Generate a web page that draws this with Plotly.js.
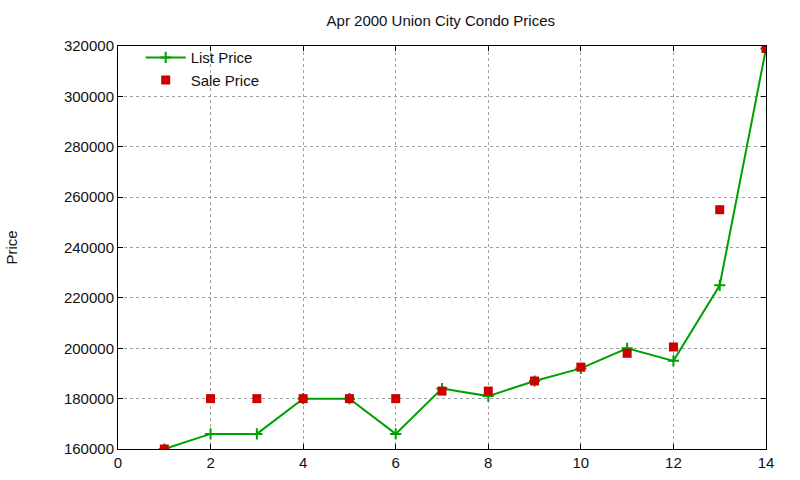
<!DOCTYPE html>
<html>
<head>
<meta charset="utf-8">
<script src="https://cdn.plot.ly/plotly-3.0.1.min.js"></script>
<style>
  html, body { margin: 0; padding: 0; background: #fff; }
  #chart { width: 800px; height: 480px; }
</style>
</head>
<body>
<div id="chart"></div>
<script>
// Union City condo sales, April 2000
const unitIndex = [1, 2, 3, 4, 5, 6, 7, 8, 9, 10, 11, 12, 13, 14];
const listPrice = [160000, 166000, 166000, 180000, 180000, 166000, 184000, 181000, 187000, 192000, 200000, 195000, 225000, 319000];
const salePrice = [160000, 180000, 180000, 180000, 180000, 180000, 183000, 183000, 187000, 192500, 198000, 200500, 255000, 319000];

const FONT = 'Liberation Sans, Arial, sans-serif';
const TEXT = '#111';

const traces = [
    {
        type: 'scatter', mode: 'lines+markers', name: 'List Price',
        x: unitIndex, y: listPrice,
        line: { color: '#00a000', width: 2 },
        marker: { symbol: 'cross-thin', size: 8, color: '#00a000', line: { color: '#00a000', width: 2 } }
    },
    {
        type: 'scatter', mode: 'markers', name: 'Sale Price',
        x: unitIndex, y: salePrice,
        marker: { symbol: 'square', size: 9, color: '#cc0000' }
    }
];

const axisCommon = {
    showline: true, linecolor: '#000', linewidth: 1, mirror: 'ticks',
    ticks: 'inside', ticklen: 5, tickcolor: '#000', tickwidth: 1,
    showgrid: true, gridcolor: '#a0a0a0', gridwidth: 1, griddash: 'dot',
    zeroline: false,
    tickfont: { family: FONT, size: 15, color: TEXT }
};

const layout = {
    width: 800, height: 480,
    margin: { t: 46, b: 31, l: 118, r: 34 },
    paper_bgcolor: '#fff', plot_bgcolor: '#fff',
    font: { family: FONT, color: TEXT },
    title: {
        text: 'Apr 2000 Union City Condo Prices',
        font: { family: FONT, size: 15, color: TEXT },
        x: 0.551, xanchor: 'center', y: 0.956, yanchor: 'middle'
    },
    xaxis: Object.assign({}, axisCommon, { range: [0, 14], dtick: 2, tick0: 0 }),
    yaxis: Object.assign({}, axisCommon, {
        range: [160000, 320000], dtick: 20000, tickformat: 'd',
        title: { text: 'Price', font: { family: FONT, size: 15, color: TEXT }, standoff: 42 }
    }),
    showlegend: true,
    legend: {
        x: 0.035, y: 1.012, xanchor: 'left', yanchor: 'top',
        bgcolor: 'rgba(0,0,0,0)', borderwidth: 0,
        font: { family: FONT, size: 15, color: TEXT },
        tracegroupgap: 0, itemwidth: 40
    }
};

Plotly.newPlot('chart', traces, layout, { displayModeBar: false, staticPlot: true });
</script>
</body>
</html>
